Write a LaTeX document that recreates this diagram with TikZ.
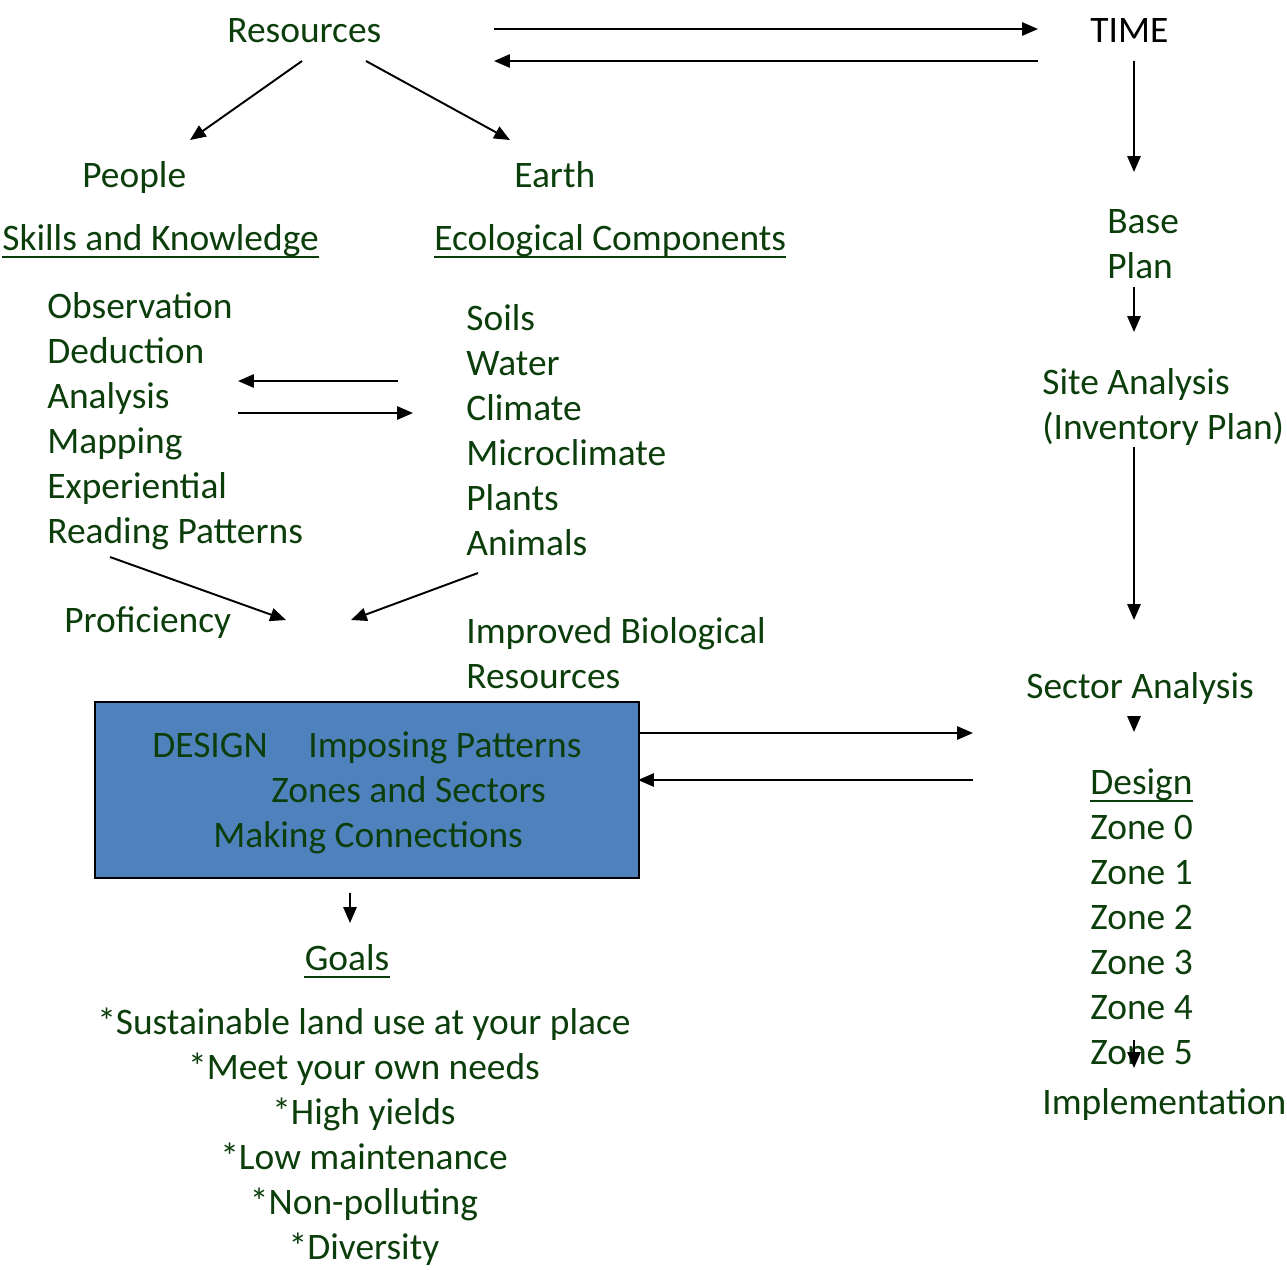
\documentclass[tikz,border=0pt]{standalone}
\usepackage{fontspec}
\setmainfont{Carlito}
\usetikzlibrary{arrows.meta}
\definecolor{leaf}{RGB}{12,62,12}
\definecolor{boxblue}{RGB}{79,129,189}
\begin{document}
\begin{tikzpicture}[x=0.02cm,y=-0.02cm]
\tikzstyle{every node}=[font=\fontsize{21.3}{25}\selectfont, text=leaf, inner sep=0pt, anchor=base west]
\tikzstyle{link}=[line width=1.1pt, -{Triangle[length=9pt,width=7.5pt]}]
\tikzstyle{uline}=[line width=1.1pt, draw=leaf]
\useasboundingbox (0,0) rectangle (1287,1269);
% top row
\node (res) at (227,42) {Resources};
\node (time) [text=black] at (1090,42) {TIME};
\node (people) at (82,187) {People};
\node (earth) at (514,187) {Earth};
\node (skills) at (2,250) {Skills and Knowledge};
\node (eco) at (434,250) {Ecological Components};
\draw [uline] ([yshift=-4.2pt]skills.base west) -- ([yshift=-4.2pt]skills.base east);
\draw [uline] ([yshift=-4.2pt]eco.base west) -- ([yshift=-4.2pt]eco.base east);
% skills list
\node (obs) at (47,318) {Observation};
\node (ded) at (47,363) {Deduction};
\node (ana) at (47,408) {Analysis};
\node (map) at (47,453) {Mapping};
\node (exp) at (47,498) {Experiential};
\node (read) at (47,543) {Reading Patterns};
% ecological list
\node (soils) at (466,330) {Soils};
\node (water) at (466,375) {Water};
\node (clim) at (466,420) {Climate};
\node (micro) at (466,465) {Microclimate};
\node (plants) at (466,510) {Plants};
\node (anim) at (466,555) {Animals};
\node (prof) at (64,632) {Proficiency};
\node (imp) at (466,643) {Improved Biological};
\node (imp2) at (466,688) {Resources};
% right column
\node (base) at (1107,233) {Base};
\node (plan) at (1107,278) {Plan};
\node (site) at (1042,394) {Site Analysis};
\node (inv) at (1042,439) {(Inventory Plan)};
\node (sector) at (1026,698) {Sector Analysis};
\node (dsn) at (1090,794) {Design};
\draw [uline] ([yshift=-4.2pt]dsn.base west) -- ([yshift=-4.2pt]dsn.base east);
\foreach \z in {0,...,5}
  \node (zone\z) at (1090,839+45*\z) {Zone \z};
\node (impl) at (1042,1114) {Implementation};
% design box
\node (designbox) [draw=black, fill=boxblue, line width=1.2pt, minimum width=10.88cm, minimum height=3.52cm, anchor=north west] at (94,701) {};
\node (dtitle) at (152,757) {DESIGN};
\node (dpat) at (308,757) {Imposing Patterns};
\node (dzone) at (271,802) {Zones and Sectors};
\node (dconn) at (213,847) {Making Connections};
% goals
\node (goals) [anchor=base] at (347,970) {Goals};
\draw [uline] ([yshift=-4.2pt]goals.base west) -- ([yshift=-4.2pt]goals.base east);
\node (g1) [anchor=base] at (364,1034) {*Sustainable land use at your place};
\node (g2) [anchor=base] at (364,1079) {*Meet your own needs};
\node (g3) [anchor=base] at (364,1124) {*High yields};
\node (g4) [anchor=base] at (364,1169) {*Low maintenance};
\node (g5) [anchor=base] at (364,1214) {*Non-polluting};
\node (g6) [anchor=base] at (364,1259) {*Diversity};
% arrow ends
\coordinate (resL) at (302,61);
\coordinate (resR) at (366,61);
\coordinate (peopleT) at (190,140);
\coordinate (earthT) at (510,140);
\coordinate (topL1) at (494,29);
\coordinate (topR1) at (1038,29);
\coordinate (topL2) at (494,61);
\coordinate (topR2) at (1038,61);
\coordinate (timeB) at (1134,61);
\coordinate (baseT) at (1134,172);
\coordinate (planB) at (1134,287);
\coordinate (siteT) at (1134,332);
\coordinate (invB) at (1134,447);
\coordinate (sectorT) at (1134,620);
\coordinate (sectorB) at (1134,716);
\coordinate (dsnT) at (1134,732);
\coordinate (zoneB) at (1134,1040);
\coordinate (implT) at (1134,1068);
\coordinate (anaR1) at (238,381);
\coordinate (climL1) at (398,381);
\coordinate (anaR2) at (238,413);
\coordinate (climL2) at (413,413);
\coordinate (readB) at (110,557);
\coordinate (meetL) at (286,620);
\coordinate (animB) at (478,573);
\coordinate (meetR) at (351,620);
\coordinate (boxR1) at (638,733);
\coordinate (sectL1) at (973,733);
\coordinate (boxR2) at (638,780);
\coordinate (sectL2) at (973,780);
\coordinate (boxB) at (350,893);
\coordinate (goalsT) at (350,923);
% arrows
\draw [link] (resL) -- (peopleT);
\draw [link] (resR) -- (earthT);
\draw [link] (topL1) -- (topR1);
\draw [link] (topR2) -- (topL2);
\draw [link] (timeB) -- (baseT);
\draw [link] (planB) -- (siteT);
\draw [link] (invB) -- (sectorT);
\draw [link] (sectorB) -- (dsnT);
\draw [link] (zoneB) -- (implT);
\draw [link] (climL1) -- (anaR1);
\draw [link] (anaR2) -- (climL2);
\draw [link] (readB) -- (meetL);
\draw [link] (animB) -- (meetR);
\draw [link] (boxR1) -- (sectL1);
\draw [link] (sectL2) -- (boxR2);
\draw [link] (boxB) -- (goalsT);
\end{tikzpicture}
\end{document}
